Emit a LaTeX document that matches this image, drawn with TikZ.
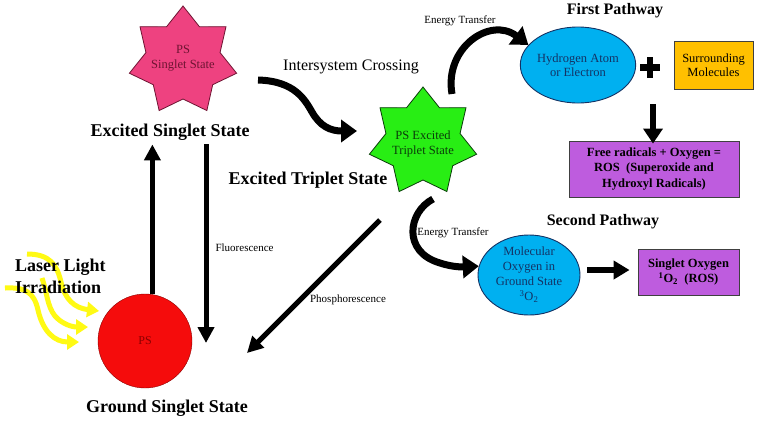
\documentclass[tikz,border=0pt]{standalone}
\usepackage{fontspec}
\setmainfont{Liberation Serif}
\usetikzlibrary{shapes.geometric,arrows.meta,calc}
\definecolor{pinkS}{RGB}{238,66,128}
\definecolor{pinkT}{RGB}{110,20,50}
\definecolor{greenS}{RGB}{40,238,20}
\definecolor{greenT}{RGB}{10,60,10}
\definecolor{redC}{RGB}{245,12,12}
\definecolor{redT}{RGB}{140,0,0}
\definecolor{blueE}{RGB}{0,176,240}
\definecolor{blueT}{RGB}{20,50,100}
\definecolor{orangeB}{RGB}{255,192,0}
\definecolor{purpleB}{RGB}{190,92,222}
\definecolor{yelA}{RGB}{255,250,20}
\begin{document}
\begin{tikzpicture}[x=1pt,y=-1pt,
  bigl/.style={font=\fontsize{18}{21}\selectfont\bfseries, inner sep=4pt},
  headl/.style={font=\fontsize{16}{19}\selectfont\bfseries},
  midl/.style={font=\fontsize{16}{19}\selectfont},
  smalll/.style={font=\fontsize{11}{13}\selectfont},
  intext/.style={font=\fontsize{12.5}{14.5}\selectfont, align=center},
  starpath/.style={line width=0.8pt, line join=miter},
  boxnode/.style={rectangle, draw=black!75, line width=0.9pt, intext, font=\fontsize{12.5}{15.5}\selectfont\bfseries},
  ellnode/.style={ellipse, draw=blueT, line width=0.9pt, fill=blueE, text=blueT, intext, inner sep=0pt},
  blkarrow/.style={line width=5pt, -{Triangle[width=16pt,length=16pt]}},
  curvarrow/.style={line width=7pt, -{Triangle[width=22pt,length=16pt]}},
  yarrow/.style={yelA, line width=5pt, -{Triangle[width=15pt,length=12pt]}}
]
\fill[white] (0,0) rectangle (757,421);
\useasboundingbox (0,0) rectangle (757,421);

% laser light (behind the text)
\draw[yarrow] (27,254) .. controls (50,254) and (57,265) .. (61,282) .. controls (65,300) and (75,308) .. (99,311);
\draw[yarrow] (42,278) .. controls (47,292) and (47,306) .. (55,316) .. controls (62,324) and (72,327) .. (88,327);
\draw[yarrow] (5,288) .. controls (25,287) and (34,292) .. (38,310) .. controls (43,332) and (55,342) .. (79,342);

% stars (7 points, outer radius 55, inner radius 38)
\draw[starpath, draw=pinkT, fill=pinkS] (183,61) +(-90:55)
  \foreach \i in {1,...,13} { -- +({-90+\i*360/14}:{ifthenelse(mod(\i,2)==0,55,38)}) } -- cycle;
\draw[starpath, draw=greenT, fill=greenS] (423,142) +(-90:55)
  \foreach \i in {1,...,13} { -- +({-90+\i*360/14}:{ifthenelse(mod(\i,2)==0,55,38)}) } -- cycle;
\node[intext, text=pinkT] (ps1) at (183,58) {PS\\Singlet State};
\node[intext, text=greenT] (gst) at (423,144) {PS Excited\\Triplet State};

\node[circle, draw=redT, fill=redC, minimum size=94pt, inner sep=0pt, text=redT, font=\fontsize{12}{14}\selectfont] (gs) at (145,341) {PS};

% labels
\node[bigl] (esl) at (170,132) {Excited Singlet State};
\node[bigl] (etl) at (308,180) {Excited Triplet State};
\node[bigl] (gsl) at (167,408) {Ground Singlet State};
\node[bigl, align=left, anchor=west, inner sep=0pt, font=\fontsize{18}{22}\selectfont\bfseries] (laser) at (15,276) {Laser Light\\Irradiation};
\node[midl] (iscl) at (351,67) {Intersystem Crossing};
\node[smalll, anchor=west] (flul) at (212,248) {Fluorescence};
\node[smalll] (phl) at (348,300) {Phosphorescence};
\node[smalll] (et1) at (460,21) {Energy Transfer};
\node[smalll] (et2) at (453,233) {Energy Transfer};
\node[headl] (fp) at (615,11) {First Pathway};
\node[headl] (sp) at (603,222) {Second Pathway};

% first pathway
\node[ellnode, minimum width=100pt, minimum height=76pt] (hyd) at (578,65) {Hydrogen Atom\\or Electron};
\node[boxnode, fill=orangeB, minimum width=79pt, minimum height=48pt, font=\fontsize{12.5}{14.5}\selectfont] (sur) at (713.5,65) {Surrounding\\Molecules};
\node[boxnode, fill=purpleB, minimum width=170pt, minimum height=56pt] (frb) at (654,169) {Free radicals + Oxygen =\\ROS \ (Superoxide and\\Hydroxyl Radicals)};
\fill (639.5,64) rectangle (659.5,70.5);
\fill (646.5,57) rectangle (652.5,78);

% second pathway
\node[ellnode, minimum width=102pt, minimum height=80pt, font=\fontsize{12.5}{15}\selectfont] (oxy) at (529,275) {Molecular\\Oxygen in\\Ground State\\\textsuperscript{3}O\textsubscript{2}};
\node[boxnode, fill=purpleB, minimum width=101pt, minimum height=46pt] (sox) at (688.5,272) {Singlet Oxygen\\\textsuperscript{1}O\textsubscript{2} \ (ROS)};

% coordinates
\coordinate (fluEnd) at (206,343);
\coordinate (phStart) at (380,220);
\coordinate (phEnd) at (247,353);
\coordinate (iscA) at (258,80);
\coordinate (iscB) at (357,131);
\coordinate (etA) at (452,94);
\coordinate (etB) at (433,199);
\coordinate (dA) at (653,104);

% connectors
\draw[blkarrow] (gs.81) -- (gs.81 |- esl.south);
\draw[blkarrow] (esl.south -| fluEnd) -- (fluEnd);
\draw[blkarrow] (phStart) -- (phEnd);
\draw[curvarrow] (iscA) .. controls (295,81) and (305,100) .. (312,112) .. controls (320,126) and (330,131) .. (iscB);
\draw[curvarrow] (etA) .. controls (444,48) and (490,16) .. (hyd.158);
\draw[curvarrow] (etB) .. controls (408,212) and (402,252) .. (440,263) .. controls (452,267) and (462,267) .. (oxy.170);
\draw[line width=6pt, -{Triangle[width=19pt,length=15pt]}] (dA) -- ([yshift=-3]dA |- frb.north);
\draw[line width=6pt, -{Triangle[width=18pt,length=16pt]}] ([shift={(7,-5)}]oxy.east) -- ([shift={(-8,-2)}]sox.west);
\end{tikzpicture}
\end{document}
